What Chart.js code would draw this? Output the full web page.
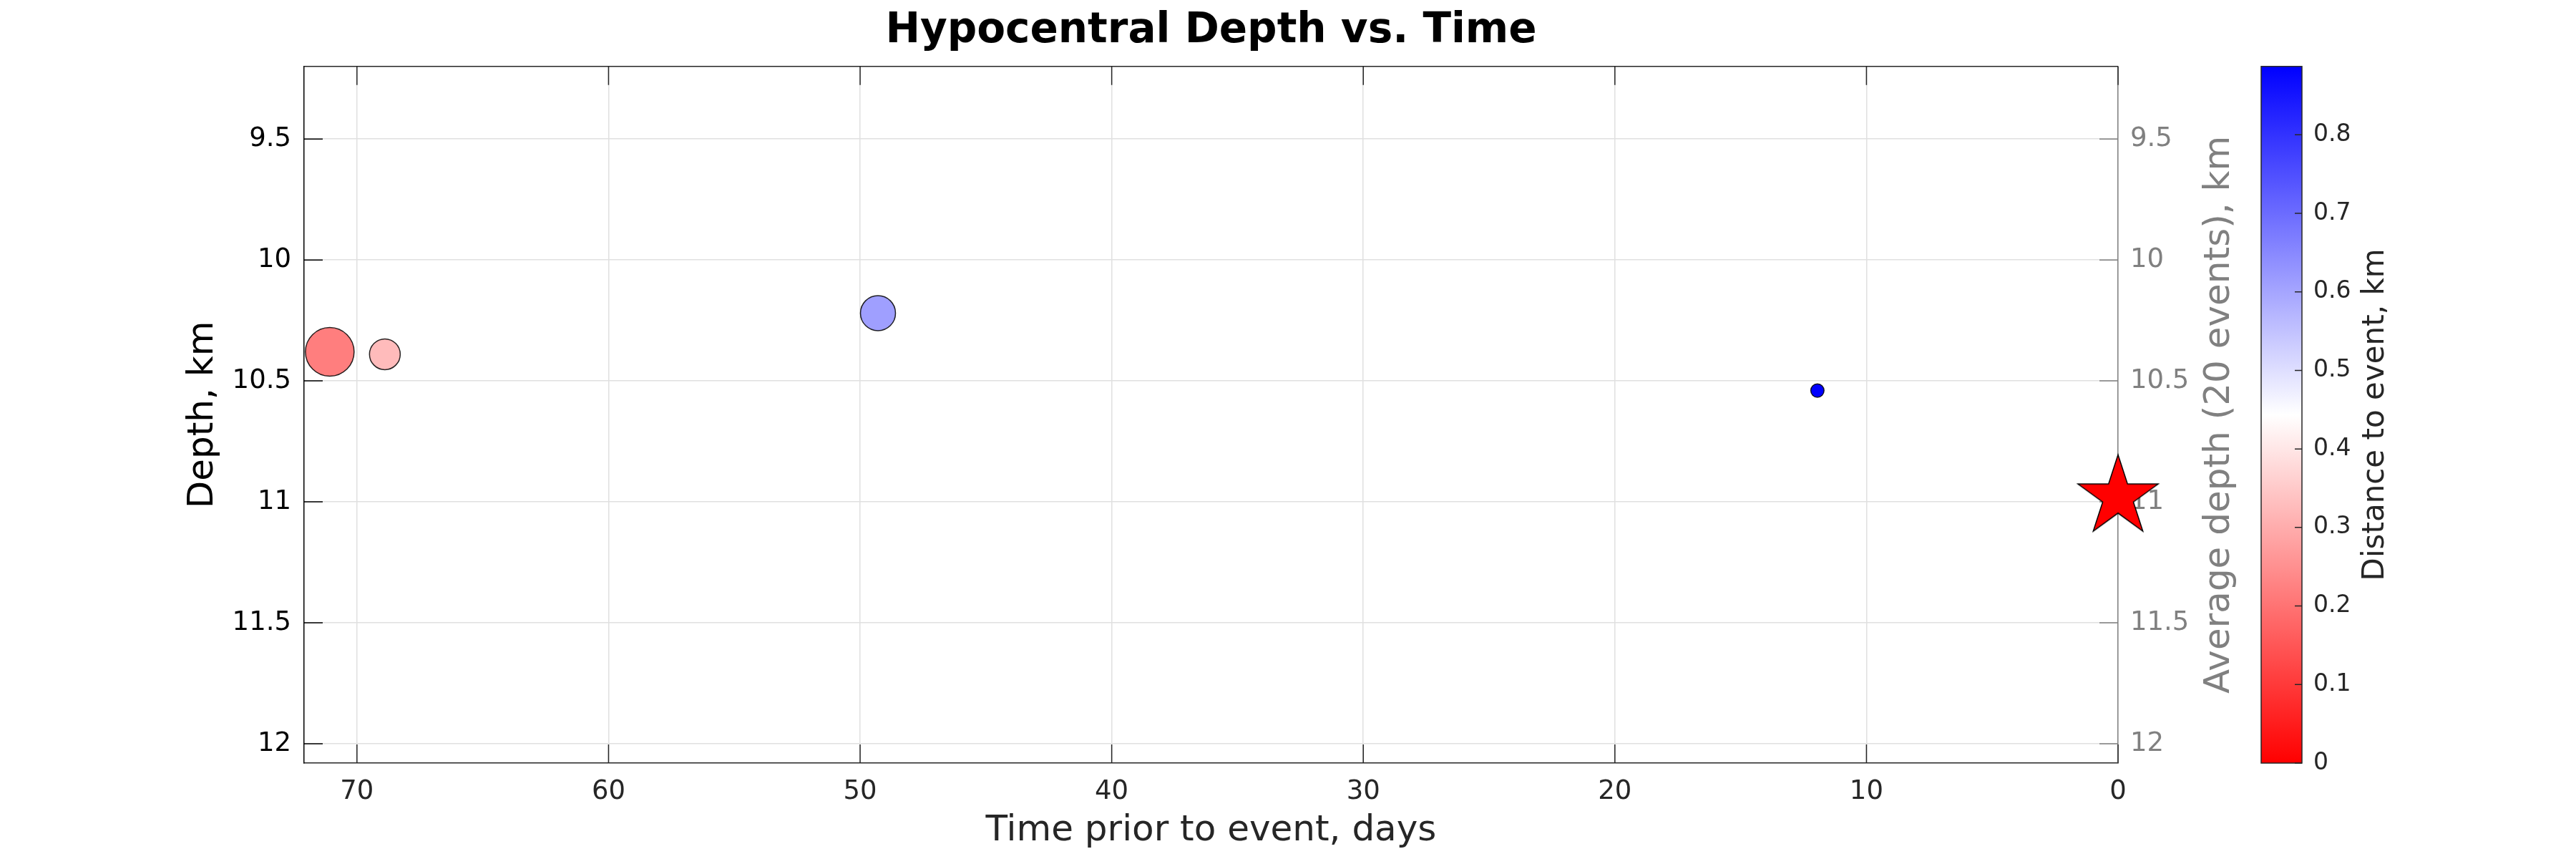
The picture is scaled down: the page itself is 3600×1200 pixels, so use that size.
<!DOCTYPE html>
<html>
<head>
<meta charset="utf-8">
<script src="https://cdn.jsdelivr.net/npm/chart.js@4.4.1/dist/chart.umd.min.js"></script>
<style>
  html, body { margin: 0; padding: 0; background: #fff; }
  canvas { display: block; }
</style>
</head>
<body>
<canvas id="depthChart" width="3600" height="1200"></canvas>
<script>
// events before the main shock
const timeDays     = [71.08, 68.89, 49.29, 11.95];
const depthKm      = [10.38, 10.39, 10.22, 10.54];
const distanceKm   = [0.22, 0.325, 0.61, 0.887];
const markerRadius = [34, 21.5, 24.5, 9.3];

// the main event itself (drawn as the star)
const eventDay   = [0];
const eventDepth = [10.98];

// tick labels
const dayTicks   = [0, 10, 20, 30, 40, 50, 60, 70];
const depthTicks = [9.5, 10, 10.5, 11, 11.5, 12];
const distTicks  = [0, 0.1, 0.2, 0.3, 0.4, 0.5, 0.6, 0.7, 0.8];

const distMax = 0.887;
const FONT = "'DejaVu Sans', Verdana, sans-serif";
const AXIS_DARK = '#262626';
const GRAY = '#808080';
const GRID = '#e0e0e0';

// red -> white -> blue colormap, same as the colorbar
function rwb(d) {
  const t = Math.min(Math.max(d / distMax, 0), 1);
  let r, g, b;
  if (t < 0.5) {
    r = 255; g = b = Math.round(255 * t / 0.5);
  } else {
    b = 255; r = g = Math.round(255 * (1 - (t - 0.5) / 0.5));
  }
  return `rgb(${r},${g},${b})`;
}

// filled pentagram marker
function makeStar(R) {
  const c = document.createElement('canvas');
  const s = Math.ceil(R * 2 + 6);
  c.width = s; c.height = s;
  const g = c.getContext('2d');
  const cx = s / 2, cy = s / 2, r = R * 0.382;
  g.beginPath();
  for (let i = 0; i < 10; i++) {
    const a = -Math.PI / 2 + i * Math.PI / 5;
    const rr = i % 2 ? r : R;
    g.lineTo(cx + rr * Math.cos(a), cy + rr * Math.sin(a));
  }
  g.closePath();
  g.fillStyle = '#ff0000';
  g.fill();
  g.lineWidth = 1.5;
  g.strokeStyle = '#000';
  g.stroke();
  return c;
}

const setTicks = (list) => (scale) => { scale.ticks = list.map(v => ({ value: v })); };

// inward tick marks, top border, colorbar and right-hand titles
const matlabLook = {
  id: 'matlabLook',
  beforeDatasetsDraw(chart) {
    const ctx = chart.ctx;
    const { left, right, top, bottom } = chart.chartArea;
    const { x, y, y2 } = chart.scales;
    const len = 26;
    ctx.save();
    ctx.lineWidth = 1.5;

    ctx.strokeStyle = AXIS_DARK;
    ctx.beginPath();
    ctx.moveTo(left, top); ctx.lineTo(right, top);
    x.ticks.forEach(t => {
      const px = x.getPixelForValue(t.value);
      ctx.moveTo(px, bottom); ctx.lineTo(px, bottom - len);
      ctx.moveTo(px, top); ctx.lineTo(px, top + len);
    });
    ctx.stroke();

    ctx.strokeStyle = '#000';
    ctx.beginPath();
    y.ticks.forEach(t => {
      const py = y.getPixelForValue(t.value);
      ctx.moveTo(left, py); ctx.lineTo(left + len, py);
    });
    ctx.stroke();

    ctx.strokeStyle = GRAY;
    ctx.beginPath();
    y2.ticks.forEach(t => {
      const py = y2.getPixelForValue(t.value);
      ctx.moveTo(right, py); ctx.lineTo(right - len, py);
    });
    ctx.stroke();
    ctx.restore();
  },
  afterDraw(chart) {
    const ctx = chart.ctx;
    const { top, bottom } = chart.chartArea;
    const cb = chart.scales.cbar;
    const y2 = chart.scales.y2;
    const barL = cb.left, barW = 57;
    const y0 = cb.getPixelForValue(0), y1 = cb.getPixelForValue(distMax);

    ctx.save();
    const grad = ctx.createLinearGradient(0, y0, 0, y1);
    grad.addColorStop(0, 'rgb(255,0,0)');
    grad.addColorStop(0.5, 'rgb(255,255,255)');
    grad.addColorStop(1, 'rgb(0,0,255)');
    ctx.fillStyle = grad;
    ctx.fillRect(barL, y1, barW, y0 - y1);
    ctx.lineWidth = 1.5;
    ctx.strokeStyle = AXIS_DARK;
    ctx.strokeRect(barL, y1, barW, y0 - y1);
    ctx.beginPath();
    cb.ticks.forEach(t => {
      const py = cb.getPixelForValue(t.value);
      ctx.moveTo(barL + barW, py); ctx.lineTo(barL + barW - 10, py);
    });
    ctx.stroke();

    // titles reading bottom-to-top on the right side
    ctx.textAlign = 'center';
    ctx.textBaseline = 'middle';
    const midY = (top + bottom) / 2;

    ctx.fillStyle = GRAY;
    ctx.font = `50px ${FONT}`;
    ctx.translate(y2.left + 142, midY);
    ctx.rotate(-Math.PI / 2);
    ctx.fillText('Average depth (20 events), km', 0, 0);
    ctx.setTransform(1, 0, 0, 1, 0, 0);

    ctx.fillStyle = AXIS_DARK;
    ctx.font = `42px ${FONT}`;
    ctx.translate(cb.left + 160, midY);
    ctx.rotate(-Math.PI / 2);
    ctx.fillText('Distance to event, km', 0, 0);
    ctx.restore();
  }
};

const ctx = document.getElementById('depthChart').getContext('2d');

const eventPoints = timeDays.map((t, i) => ({ x: t, y: depthKm[i] }));
const mainPoint = eventDay.map((t, i) => ({ x: t, y: eventDepth[i] }));

new Chart(ctx, {
  type: 'scatter',
  data: {
    datasets: [
      {
        label: 'Main event',
        data: mainPoint,
        pointStyle: makeStar(59),
        pointRadius: 59,
        clip: false,
        xAxisID: 'x',
        yAxisID: 'y'
      },
      {
        label: 'Events',
        data: eventPoints,
        backgroundColor: distanceKm.map(rwb),
        borderColor: 'rgba(0,0,0,0.85)',
        borderWidth: 1.5,
        pointRadius: markerRadius,
        pointHoverRadius: markerRadius,
        xAxisID: 'x',
        yAxisID: 'y'
      }
    ]
  },
  options: {
    responsive: false,
    animation: false,
    devicePixelRatio: 1,
    layout: { padding: 0 },
    plugins: {
      legend: { display: false },
      tooltip: { enabled: false },
      title: {
        display: true,
        text: 'Hypocentral Depth vs. Time',
        color: '#000',
        fullSize: false,
        font: { family: FONT, size: 58, weight: 'bold' },
        padding: { top: 7.2, bottom: 14.2 }
      }
    },
    scales: {
      x: {
        type: 'linear',
        position: 'bottom',
        min: 0,
        max: 72.1,
        reverse: true,
        afterBuildTicks: setTicks(dayTicks),
        afterFit: (s) => { s.height = 134; },
        ticks: {
          color: AXIS_DARK,
          font: { family: FONT, size: 37 },
          padding: 18,
          maxRotation: 0,
          autoSkip: false,
          callback: (v) => String(v)
        },
        grid: { color: GRID, lineWidth: 1.5, drawTicks: false },
        border: { color: AXIS_DARK, width: 1.5 },
        title: {
          display: true,
          text: 'Time prior to event, days',
          color: AXIS_DARK,
          font: { family: FONT, size: 50 },
          padding: { top: 0, bottom: 8.5 }
        }
      },
      y: {
        type: 'linear',
        position: 'left',
        min: 9.2,
        max: 12.08,
        reverse: true,
        afterBuildTicks: setTicks(depthTicks),
        afterFit: (s) => { s.width = 425; },
        ticks: {
          color: '#000',
          font: { family: FONT, size: 37 },
          padding: 18,
          autoSkip: false,
          callback: (v) => String(v)
        },
        grid: { color: GRID, lineWidth: 1.5, drawTicks: false },
        border: { color: '#000', width: 1.5 },
        title: {
          display: true,
          text: 'Depth, km',
          color: '#000',
          font: { family: FONT, size: 50 },
          padding: { top: 254, bottom: 0 }
        }
      },
      y2: {
        type: 'linear',
        axis: 'y',
        position: 'right',
        weight: 0,
        min: 9.2,
        max: 12.08,
        reverse: true,
        afterBuildTicks: setTicks(depthTicks),
        afterFit: (s) => { s.width = 200; },
        ticks: {
          color: GRAY,
          font: { family: FONT, size: 37 },
          padding: 17,
          autoSkip: false,
          callback: (v) => String(v)
        },
        grid: { display: false, drawTicks: false },
        border: { display: true, color: GRAY, width: 1.5 }
      },
      cbar: {
        type: 'linear',
        axis: 'y',
        position: 'right',
        weight: 1,
        min: 0,
        max: distMax,
        afterBuildTicks: setTicks(distTicks),
        afterFit: (s) => { s.width = 440; },
        ticks: {
          color: AXIS_DARK,
          font: { family: FONT, size: 33 },
          padding: 73,
          autoSkip: false,
          callback: (v) => String(+v.toFixed(1))
        },
        grid: { display: false, drawTicks: false },
        border: { display: false }
      }
    }
  },
  plugins: [matlabLook]
});
</script>
</body>
</html>
